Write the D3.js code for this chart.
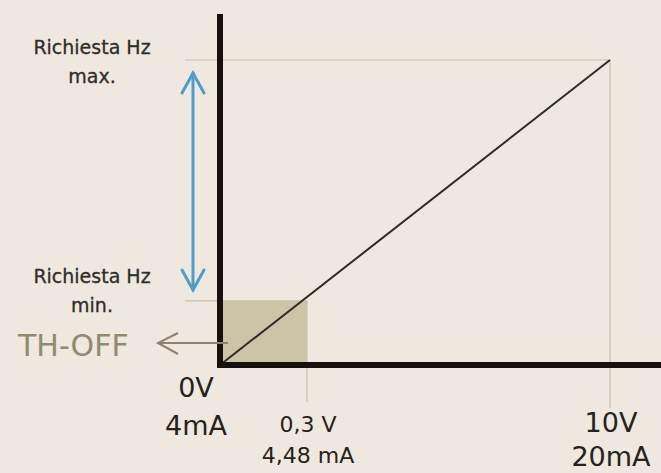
<!DOCTYPE html>
<html>
<head>
<meta charset="utf-8">
<script src="https://cdn.jsdelivr.net/npm/d3@7"></script>
<style>
  html, body { margin: 0; padding: 0; background: #eee8de; }
  svg { display: block; }
  text { font-family: "DejaVu Sans", sans-serif; }
</style>
</head>
<body>
<div id="chart"></div>
<script>
// input voltage (V) at the ticks, with the matching current labels
var voltTicks = [0, 0.3, 10],
    voltLabels = ["0V", "0,3 V", "10V"],
    mAmpLabels = ["4mA", "4,48 mA", "20mA"];

// requested frequency, % of max
var hzLevels = [21, 100],
    hzLabels = [["Richiesta Hz", "min."], ["Richiesta Hz", "max."]];

// transfer line (V, %)
var lineVolt = [0, 10],
    lineHz = [0, 100];

// TH-OFF zone
var offVolt = [0, 0.3],
    offHz = [0, 21];

var width = 661, height = 473;

var svg = d3.select('#chart').append('svg')
    .attr('width', width)
    .attr('height', height);

svg.append('rect')
    .attr('width', width).attr('height', height)
    .attr('fill', '#eee8de');

// drawing is schematic: the 0,3 V step is stretched out
var x = d3.scaleLinear()
    .domain([0, 0.3, 10])
    .range([220, 307, 610]);

var y = d3.scaleLinear()
    .domain([0, 100])
    .range([365, 60]);

// TH-OFF box
svg.append('rect')
    .attr('x', x(offVolt[0]))
    .attr('y', y(offHz[1]))
    .attr('width', x(offVolt[1]) - x(offVolt[0]))
    .attr('height', y(offHz[0]) - y(offHz[1]))
    .attr('fill', '#cbc4a7');

// light guide lines
var guides = svg.append('g')
    .attr('stroke', '#c9c1b2')
    .attr('stroke-width', 1.2)
    .attr('fill', 'none');

guides.append('line')
    .attr('x1', 185).attr('x2', x(10))
    .attr('y1', y(hzLevels[1])).attr('y2', y(hzLevels[1]));

guides.append('line')
    .attr('x1', 185).attr('x2', x(offVolt[1]))
    .attr('y1', y(hzLevels[0])).attr('y2', y(hzLevels[0]));

guides.append('line')
    .attr('x1', x(10)).attr('x2', x(10))
    .attr('y1', y(100)).attr('y2', 408);

guides.append('line')
    .attr('x1', x(0.3)).attr('x2', x(0.3))
    .attr('y1', y(offHz[1])).attr('y2', 402);

// transfer line
var line = d3.line()
    .x(function(d) { return x(d[0]); })
    .y(function(d) { return y(d[1]); });

svg.append('path')
    .datum(d3.zip(lineVolt, lineHz))
    .attr('d', line)
    .attr('fill', 'none')
    .attr('stroke', '#2e2a26')
    .attr('stroke-width', 2);

// axes
svg.append('line')
    .attr('x1', x(0)).attr('x2', x(0))
    .attr('y1', 14).attr('y2', y(0) + 3)
    .attr('stroke', '#17110e')
    .attr('stroke-width', 6);

svg.append('line')
    .attr('x1', x(0) - 3).attr('x2', width)
    .attr('y1', y(0)).attr('y2', y(0))
    .attr('stroke', '#17110e')
    .attr('stroke-width', 6);

// blue double arrow between min and max
var ax = 193;
var blue = svg.append('g')
    .attr('stroke', '#4f9dc8')
    .attr('stroke-width', 3)
    .attr('fill', 'none')
    .attr('stroke-linecap', 'round');

blue.append('line')
    .attr('x1', ax).attr('x2', ax)
    .attr('y1', y(hzLevels[1]) + 13).attr('y2', y(hzLevels[0]) - 11);

blue.append('path')
    .attr('d', 'M' + (ax - 11) + ',' + (y(hzLevels[1]) + 33) +
        'L' + ax + ',' + (y(hzLevels[1]) + 13) +
        'L' + (ax + 11) + ',' + (y(hzLevels[1]) + 33));

blue.append('path')
    .attr('d', 'M' + (ax - 11) + ',' + (y(hzLevels[0]) - 31) +
        'L' + ax + ',' + (y(hzLevels[0]) - 11) +
        'L' + (ax + 11) + ',' + (y(hzLevels[0]) - 31));

// TH-OFF arrow
var ay = 343;
var th = svg.append('g')
    .attr('stroke', '#8f8170')
    .attr('stroke-width', 2)
    .attr('fill', 'none');

th.append('line')
    .attr('x1', x(0) + 8).attr('x2', 158)
    .attr('y1', ay).attr('y2', ay);

th.append('path')
    .attr('d', 'M178,333L158,' + ay + 'L178,354');

svg.append('text')
    .attr('x', 18).attr('y', 356)
    .attr('font-size', 30)
    .attr('fill', '#8e8b70')
    .text('TH-OFF');

// level labels
var levelY = [[283, 312], [54, 83]];
hzLabels.forEach(function(lbl, i) {
    var t = svg.append('text')
        .attr('text-anchor', 'middle')
        .attr('font-size', 19)
        .attr('fill', '#2f2d2b')
        .attr('stroke', '#2f2d2b')
        .attr('stroke-width', 0.3);
    lbl.forEach(function(s, j) {
        t.append('tspan')
            .attr('x', 92)
            .attr('y', levelY[i][j])
            .text(s);
    });
});

// tick labels
var tickLayout = [
    { dx: -24, y1: 397, y2: 435, size: 27 },
    { dx: 1, y1: 432, y2: 463, size: 22 },
    { dx: 1, y1: 432, y2: 466, size: 27 }
];

voltTicks.forEach(function(v, i) {
    var p = tickLayout[i];
    var g = svg.append('text')
        .attr('text-anchor', 'middle')
        .attr('font-size', p.size)
        .attr('fill', '#252220');
    g.append('tspan')
        .attr('x', x(v) + p.dx).attr('y', p.y1)
        .text(voltLabels[i]);
    g.append('tspan')
        .attr('x', x(v) + p.dx).attr('y', p.y2)
        .text(mAmpLabels[i]);
});
</script>
</body>
</html>
